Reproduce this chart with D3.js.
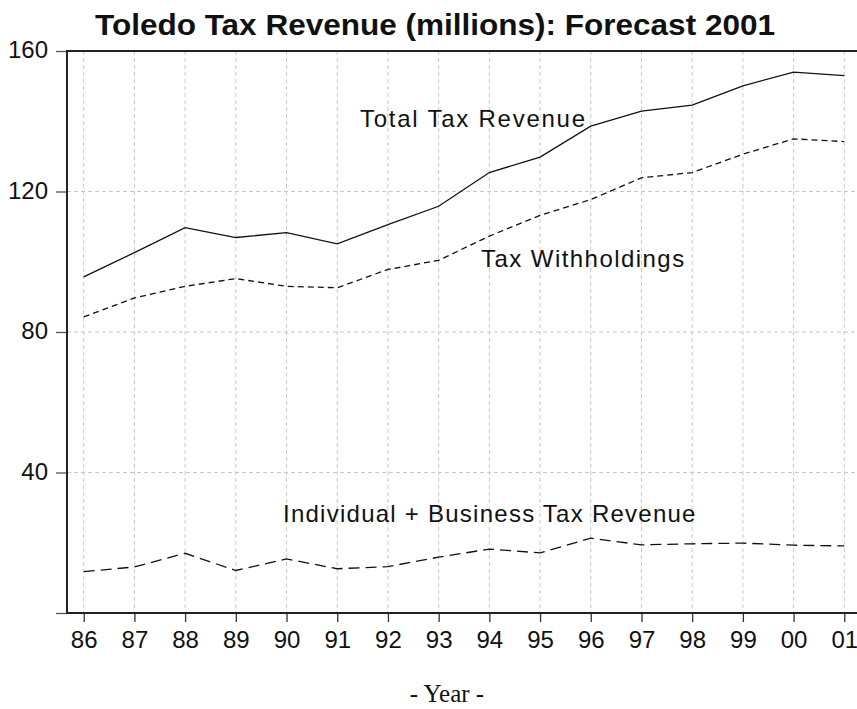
<!DOCTYPE html>
<html>
<head>
<meta charset="utf-8">
<script src="https://cdn.jsdelivr.net/npm/d3@7"></script>
<style>
  body { margin: 0; background: #fff; }
  svg { display: block; }
  text { font-family: "Liberation Sans", Arial, sans-serif; fill: #111; }
</style>
</head>
<body>
<div id="chart"></div>
<script>
// Data
const years = ["86", "87", "88", "89", "90", "91", "92", "93", "94", "95", "96", "97", "98", "99", "00", "01"];
const totalRevenue = [95.7, 102.6, 109.7, 106.9, 108.3, 105.1, 110.6, 115.8, 125.4, 129.8, 138.6, 142.9, 144.6, 150.1, 154.0, 153.0];
const withholdings = [84.3, 89.7, 93.0, 95.2, 93.0, 92.6, 97.8, 100.4, 107.3, 113.2, 117.7, 123.9, 125.4, 130.6, 135.0, 134.2];
const indivBusiness = [11.8, 13.1, 17.0, 12.1, 15.4, 12.6, 13.2, 15.9, 18.2, 17.1, 21.3, 19.4, 19.7, 19.9, 19.3, 19.1];
const yTicks = [0, 40, 80, 120, 160];

const width = 857, height = 709;
const plot = { left: 67, top: 51, right: 862, bottom: 613 };

const svg = d3.select("#chart").append("svg")
    .attr("width", width)
    .attr("height", height);

// Scales
const x = d3.scalePoint()
    .domain(years)
    .range([83.7, 844.3]);

const y = d3.scaleLinear()
    .domain([0, 160])
    .range([plot.bottom, plot.top]);

// Grid lines
svg.append("g")
    .selectAll("line")
    .data(years)
    .join("line")
    .attr("x1", d => x(d)).attr("x2", d => x(d))
    .attr("y1", plot.top).attr("y2", plot.bottom)
    .attr("stroke", "#c8c8c8")
    .attr("stroke-width", 1)
    .attr("stroke-dasharray", "4,3");

svg.append("g")
    .selectAll("line")
    .data([40, 80, 120])
    .join("line")
    .attr("x1", plot.left).attr("x2", plot.right)
    .attr("y1", d => y(d)).attr("y2", d => y(d))
    .attr("stroke", "#c8c8c8")
    .attr("stroke-width", 1)
    .attr("stroke-dasharray", "4,3");

// Axes
const yAxis = svg.append("g")
    .attr("transform", "translate(" + plot.left + ",0)")
    .call(d3.axisLeft(y).tickValues(yTicks).tickSize(11).tickPadding(8)
        .tickFormat(d => d === 0 ? "" : d));
yAxis.select(".domain").remove();
yAxis.selectAll(".tick line").attr("stroke", "#555").attr("stroke-width", 1.3);
yAxis.selectAll(".tick text")
    .attr("font-size", 24)
    .attr("font-family", "Liberation Sans, Arial, sans-serif")
    .attr("fill", "#111")
    .attr("dy", 6.5);

const xAxis = svg.append("g")
    .attr("transform", "translate(0," + plot.bottom + ")")
    .call(d3.axisBottom(x).tickSize(9).tickPadding(8.5));
xAxis.select(".domain").remove();
xAxis.selectAll(".tick line").attr("stroke", "#333").attr("stroke-width", 1.3);
xAxis.selectAll(".tick text")
    .attr("font-size", 24)
    .attr("font-family", "Liberation Sans, Arial, sans-serif")
    .attr("fill", "#111");

// Frame (left, top, bottom)
svg.append("path")
    .attr("d", "M" + plot.right + "," + plot.top + "H" + plot.left + "V" + plot.bottom + "H" + plot.right)
    .attr("fill", "none")
    .attr("stroke", "#222")
    .attr("stroke-width", 2);

// Lines
const series = [
    { values: totalRevenue, dash: null },
    { values: withholdings, dash: "6,4" },
    { values: indivBusiness, dash: "11,6" }
];

const lineFunc = d3.line()
    .x((d, i) => x(years[i]))
    .y(d => y(d));

series.forEach(s => {
    svg.append("path")
        .attr("d", lineFunc(s.values))
        .attr("fill", "none")
        .attr("stroke", "#111")
        .attr("stroke-width", 1.3)
        .attr("stroke-dasharray", s.dash);
});

// Series labels
svg.append("text").attr("x", 360).attr("y", 127)
    .attr("font-size", 24).attr("letter-spacing", 1.75)
    .text("Total Tax Revenue");
svg.append("text").attr("x", 481).attr("y", 267)
    .attr("font-size", 24).attr("letter-spacing", 1.45)
    .text("Tax Withholdings");
svg.append("text").attr("x", 283).attr("y", 522)
    .attr("font-size", 24).attr("letter-spacing", 1.25)
    .text("Individual + Business Tax Revenue");

// Title
svg.append("text")
    .attr("x", 95).attr("y", 35)
    .attr("font-size", 29).attr("font-weight", "bold")
    .attr("textLength", 680).attr("lengthAdjust", "spacingAndGlyphs")
    .text("Toledo Tax Revenue (millions): Forecast 2001");

// X axis title
svg.append("text")
    .attr("x", 447).attr("y", 702)
    .attr("text-anchor", "middle")
    .attr("font-size", 25)
    .style("font-family", "'Liberation Serif', 'Times New Roman', serif")
    .text("- Year -");
</script>
</body>
</html>
